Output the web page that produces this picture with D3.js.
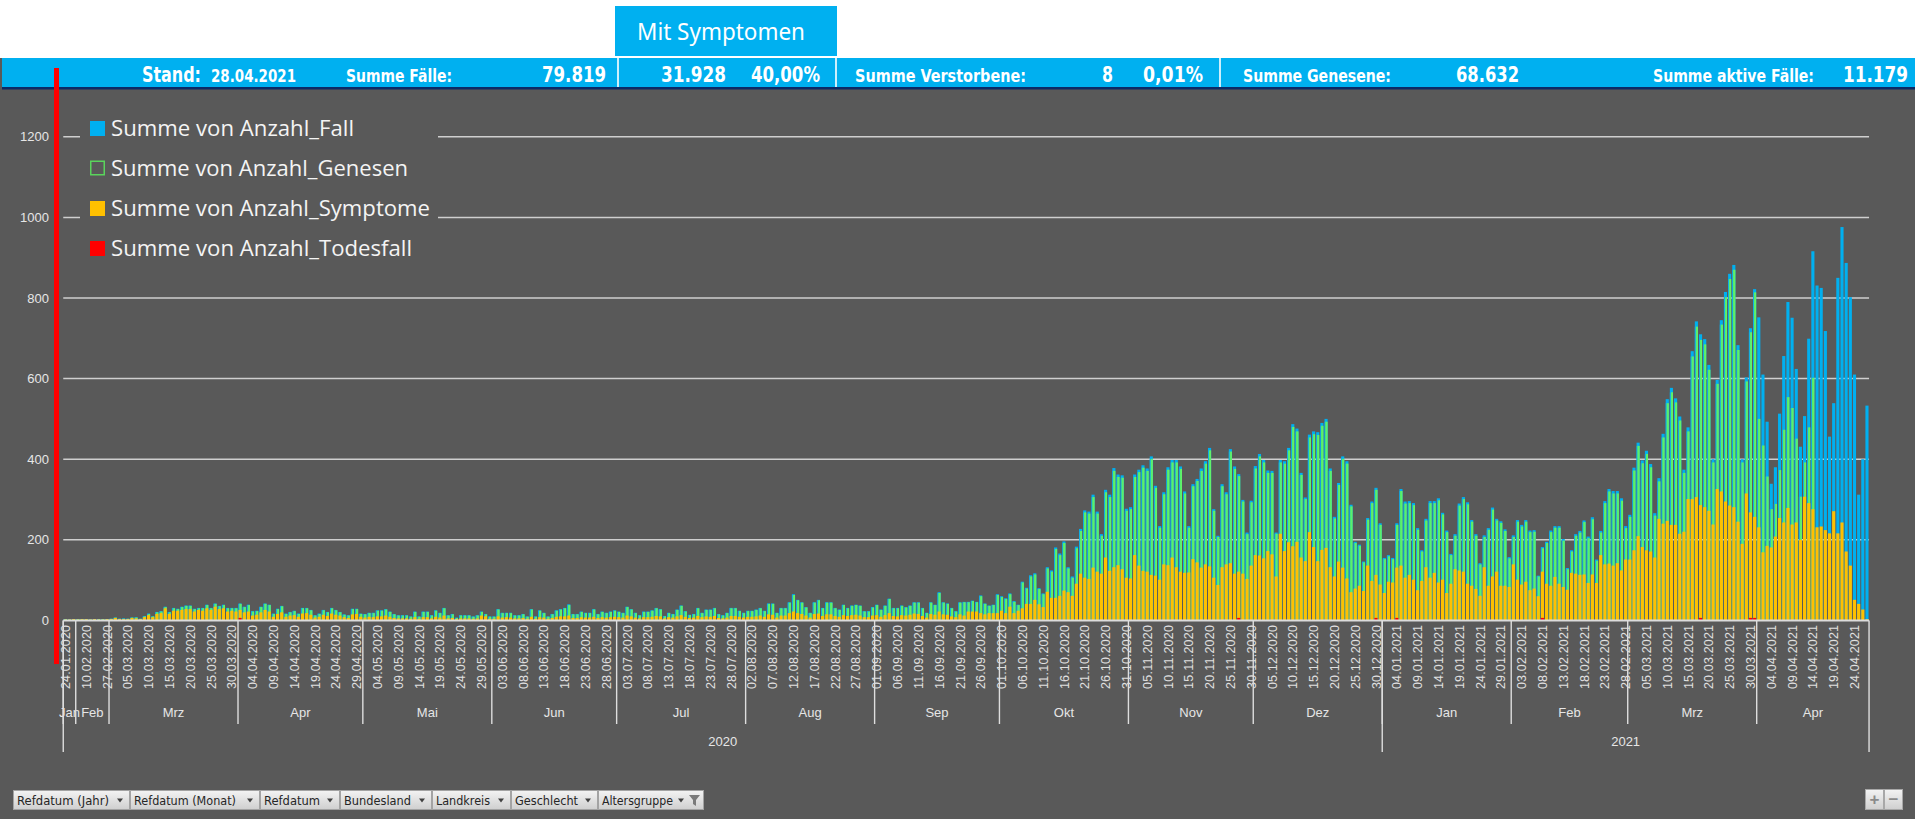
<!DOCTYPE html>
<html><head><meta charset="utf-8">
<script src="https://cdn.jsdelivr.net/npm/d3@7"></script>
<style>html,body{margin:0;padding:0;background:#595959;overflow:hidden}svg{display:block}</style>
</head><body>
<svg id="c" width="1915" height="819"></svg>
<script>
// ---------------- DATA ----------------
const ersteTage = ["24.01.2020","27.01.2020","28.01.2020","03.02.2020","07.02.2020","10.02.2020","12.02.2020","19.02.2020","24.02.2020","26.02.2020","27.02.2020"];
const fortlaufendVon = [2020, 2, 1];   // 01.03.2020
const fortlaufendBis = [2021, 3, 27];  // 27.04.2021
const fmtDatum = d3.utcFormat("%d.%m.%Y");
const kategorien = ersteTage.concat(
  d3.utcDays(new Date(Date.UTC(...fortlaufendVon)), new Date(Date.UTC(fortlaufendBis[0], fortlaufendBis[1], fortlaufendBis[2] + 1))).map(fmtDatum)
);

const anzahlFall = [
  3,2,3,3,3,3,2,3,3,3,3,
  4,7,4,5,4,7,8,4,11,17,10,21,23,34,21,31,29,34,37,37,29,31,31,39,31,42,36,39,31,31,31,
  42,34,39,23,24,34,42,39,17,29,36,17,21,24,17,31,31,26,13,17,26,21,31,26,21,15,13,29,29,17,
  16,19,19,25,25,28,22,16,13,13,13,10,22,10,22,22,13,25,19,31,13,16,7,13,13,13,10,13,22,16,10,
  10,28,19,19,19,13,13,16,10,28,10,25,19,10,16,25,28,31,40,16,16,22,19,19,28,16,22,19,22,25,
  22,19,34,28,19,13,22,22,25,31,28,11,19,16,27,37,23,14,16,31,19,27,27,31,16,13,19,31,31,24,19,
  24,24,27,31,24,42,42,19,31,31,45,65,51,45,33,19,45,51,31,45,45,31,27,39,31,37,39,37,23,23,33,
  39,27,37,54,31,31,37,33,37,45,45,31,19,45,39,70,45,42,31,23,45,46,46,49,46,62,42,37,39,65,
  60,55,67,48,39,96,81,112,117,80,67,132,124,181,166,196,132,109,183,227,273,270,312,270,214,324,312,378,362,360,277,
  281,362,374,385,377,407,334,234,318,380,398,398,382,320,234,338,351,377,395,428,276,210,338,318,425,382,363,299,218,297,
  383,413,398,372,371,218,398,395,428,487,476,366,305,461,469,467,490,500,377,257,341,407,395,287,195,188,146,254,295,329,241,
  155,162,155,241,326,295,296,291,229,174,252,296,296,303,267,223,165,214,290,306,293,249,214,142,211,229,280,252,246,226,157,
  211,249,237,249,223,224,111,182,195,223,234,234,202,130,174,214,222,248,208,256,151,222,296,326,321,321,303,234,
  262,379,441,397,421,388,266,353,463,549,577,551,506,374,479,668,742,710,698,634,400,597,745,815,860,882,683,400,603,725,822,
  752,610,493,339,380,513,656,790,751,624,431,507,699,916,831,825,718,456,539,850,976,887,802,610,312,400,533
];
const anzahlGenesen = [
  3,2,3,3,3,3,2,3,3,3,3,
  4,7,4,4,4,7,7,4,10,16,10,20,22,33,20,30,28,33,36,36,28,30,30,38,30,41,35,38,30,30,30,
  41,33,38,22,23,33,41,38,16,28,35,16,20,23,16,30,30,25,12,16,25,20,30,25,20,14,12,28,28,16,
  15,18,18,24,24,27,21,15,12,12,12,9,21,9,21,21,12,24,18,30,12,15,6,12,12,12,9,12,21,15,9,
  9,27,18,18,18,12,12,15,9,27,9,24,18,9,15,24,27,30,38,15,15,21,18,18,27,15,21,18,21,24,
  21,18,33,27,18,12,21,21,24,30,27,10,18,15,26,36,22,13,15,30,18,26,26,30,15,12,18,30,30,23,18,
  23,23,26,30,23,41,41,18,30,30,44,63,50,44,32,18,44,50,30,44,44,30,26,38,30,36,38,36,22,22,32,
  38,26,36,53,30,30,36,32,36,44,44,30,18,44,38,68,44,41,30,22,44,45,45,48,45,60,41,36,38,63,
  58,53,65,46,38,94,79,109,114,78,65,129,121,177,162,192,129,106,179,222,268,265,306,265,210,318,306,371,356,354,272,
  276,356,368,379,371,401,329,230,313,374,392,392,376,315,230,333,346,371,389,422,272,207,333,313,419,376,358,295,214,293,
  377,407,392,366,366,215,392,389,422,480,469,361,301,454,462,460,483,493,371,253,336,401,389,283,192,185,144,250,291,324,237,
  152,159,152,237,321,290,291,286,225,171,248,291,291,298,263,219,162,210,285,301,288,245,210,139,207,225,275,248,242,222,154,
  207,245,233,245,219,220,109,179,192,219,230,230,198,127,171,210,218,244,204,251,148,218,291,320,315,315,297,229,
  257,372,433,390,413,380,260,345,454,539,566,541,496,366,469,655,729,696,685,622,392,587,734,802,847,870,671,392,593,715,814,
  500,434,357,276,289,373,473,554,527,451,307,392,479,602,0,0,0,0,0,0,0,0,0,0,0,0,0
];
const anzahlSymptome = [
  2,2,3,2,3,3,2,3,2,2,3,
  3,6,3,3,3,6,5,3,8,13,8,16,18,30,16,24,24,26,28,28,22,26,24,30,26,34,28,30,22,24,22,
  26,20,22,12,14,20,26,22,9,16,20,9,12,13,9,17,18,14,7,9,14,11,17,14,12,8,6,15,16,9,
  7,9,8,10,10,12,9,6,5,5,5,4,8,4,8,8,5,9,7,12,5,6,3,5,5,5,4,5,12,10,4,
  4,10,7,8,7,5,5,6,4,9,4,8,7,4,6,9,10,10,12,6,6,8,7,7,9,6,8,7,8,9,
  8,7,12,10,7,5,8,8,9,11,10,5,8,7,10,13,9,6,7,11,8,10,9,11,6,5,7,11,11,9,7,
  9,9,10,12,9,15,14,7,12,12,18,22,18,16,12,7,16,17,11,15,15,11,9,13,11,13,14,12,8,8,12,
  13,9,13,18,11,10,13,12,14,17,16,11,7,16,14,22,15,14,10,8,15,12,22,22,22,18,15,18,18,18,
  24,18,34,18,24,30,41,41,51,40,33,71,56,56,61,74,70,61,91,116,106,103,131,121,116,156,123,132,137,127,106,
  104,162,136,123,121,113,111,101,139,137,156,132,121,118,119,152,144,131,139,134,106,88,132,139,142,116,121,116,103,136,
  162,161,154,172,164,109,215,172,194,184,195,156,147,219,182,147,175,180,132,109,146,131,104,70,79,86,73,136,98,113,89,
  68,96,94,131,136,106,113,101,75,98,132,106,118,94,101,68,91,127,124,121,91,86,78,61,132,86,109,121,86,86,83,
  139,101,89,96,75,79,60,121,91,86,108,91,83,76,118,116,113,114,93,114,93,162,139,141,136,142,124,151,
  151,174,209,182,174,171,156,252,240,247,237,237,215,220,301,301,306,286,281,272,238,326,320,295,285,281,245,190,315,268,257,
  231,169,185,181,208,254,243,279,238,243,200,307,291,276,231,233,224,216,271,216,243,171,136,51,41,27,3
];
const todesfaelle = [["01.04.2020",1],["27.11.2020",1],["30.12.2020",1],["04.01.2021",1],["08.02.2021",1],["18.03.2021",1],["30.03.2021",1],["31.03.2021",1]];

const yTicks = [0,200,400,600,800,1000,1200];
const monatsNamen = ["Jan","Feb","Mrz","Apr","Mai","Jun","Jul","Aug","Sep","Okt","Nov","Dez"];
const serienNamen = ["Summe von Anzahl_Fall","Summe von Anzahl_Genesen","Summe von Anzahl_Symptome","Summe von Anzahl_Todesfall"];
const kopfTexte = ["Stand:","28.04.2021","Summe Fälle:","79.819","31.928","40,00%","Summe Verstorbene:","8","0,01%","Summe Genesene:","68.632","Summe aktive Fälle:","11.179"];
const titelText = "Mit Symptomen";
const filterFelder = ["Refdatum (Jahr)","Refdatum (Monat)","Refdatum","Bundesland","Landkreis","Geschlecht","Altersgruppe"];

if (kategorien.length !== anzahlFall.length || anzahlFall.length !== anzahlGenesen.length || anzahlFall.length !== anzahlSymptome.length)
  console.error("length mismatch", kategorien.length, anzahlFall.length, anzahlGenesen.length, anzahlSymptome.length);

// ---------------- DRAWING ----------------
const W = 1915, H = 819;
const svg = d3.select("#c");
const defs = svg.append("defs");
const NARROW = "'Liberation Sans Narrow','DejaVu Sans Condensed','Liberation Sans',sans-serif";
const SANS = "'Liberation Sans',Arial,sans-serif";

function txt(g, x, y, s, o = {}) {
  const t = g.append("text").attr("x", x).attr("y", y).text(s)
    .attr("font-family", o.font || SANS)
    .attr("font-size", o.size || 13)
    .attr("font-weight", o.weight || "normal")
    .attr("fill", o.fill || "#ffffff")
    .attr("text-anchor", o.anchor || "start");
  if (o.len) t.attr("textLength", o.len).attr("lengthAdjust", "spacingAndGlyphs");
  return t;
}

// backgrounds
svg.append("rect").attr("width", W).attr("height", H).attr("fill", "#595959");
svg.append("rect").attr("width", W).attr("height", 58).attr("fill", "#ffffff");

// title box
svg.append("rect").attr("x", 615).attr("y", 6).attr("width", 222).attr("height", 50).attr("fill", "#00b0f0");
txt(svg, 721, 40, titelText, {font: "'Noto Sans','Open Sans',sans-serif", size: 23, anchor: "middle", len: 168});

// header bar
svg.append("rect").attr("x", 2).attr("y", 58).attr("width", W - 2).attr("height", 29).attr("fill", "#00b0f0");
svg.append("rect").attr("x", 2).attr("y", 87).attr("width", W - 2).attr("height", 2.5).attr("fill", "#0b2a66");
[618, 836, 1220].forEach(xx => svg.append("line").attr("x1", xx).attr("x2", xx).attr("y1", 58).attr("y2", 87).attr("stroke", "#ffffff").attr("stroke-width", 1.6));

const kopfLayout = [
  {x: 142, len: 59, size: 21}, {x: 211, len: 85, size: 17}, {x: 346, len: 106, size: 18},
  {x: 606, len: 64, size: 21, anchor: "end"}, {x: 661, len: 65, size: 21}, {x: 751, len: 69, size: 21},
  {x: 855, len: 171, size: 18}, {x: 1102, len: 11, size: 21}, {x: 1143, len: 60, size: 21},
  {x: 1243, len: 148, size: 18}, {x: 1456, len: 63, size: 21}, {x: 1653, len: 161, size: 18}, {x: 1843, len: 65, size: 21}
];
kopfTexte.forEach((s, k) => {
  const L = kopfLayout[k];
  txt(svg, L.x, 81.5, s, {font: NARROW, weight: "bold", size: L.size, len: L.len, anchor: L.anchor || "start"});
});

// scales
const x0 = 63.25, x1 = 1869.05;
const x = d3.scaleBand().domain(d3.range(kategorien.length)).range([x0, x1]).paddingInner(0.25).paddingOuter(0.125);
const y = d3.scaleLinear().domain([0, 1200]).range([620.4, 136.8]);
const step = x.step();
const grenze = i => x0 + i * step;

const plot = svg.append("g");

// gridlines
plot.selectAll("line.grid").data(yTicks.filter(v => v > 0)).enter().append("line")
  .attr("x1", x0).attr("x2", x1).attr("y1", d => y(d)).attr("y2", d => y(d))
  .attr("stroke", "#cfcfcf").attr("stroke-width", 1.5);

// y labels
plot.selectAll("text.yl").data(yTicks).enter().append("text")
  .attr("x", 49).attr("y", d => y(d) + 4.6).attr("text-anchor", "end")
  .attr("font-family", SANS).attr("font-size", 13).attr("fill", "#e6e6e6").text(d => d);

// gradient for Genesen
const gg = defs.append("linearGradient").attr("id", "gGen").attr("x1", 0).attr("x2", 1).attr("y1", 0).attr("y2", 0);
[[0, "#10a8e8"], [0.2, "#14b0e0"], [0.36, "#52ee6a"], [1, "#68f46a"]].forEach(s => gg.append("stop").attr("offset", s[0]).attr("stop-color", s[1]));

const bw = x.bandwidth();
function bars(data, fill, cls, minH) {
  plot.selectAll("rect." + cls).data(data.map((v, i) => ({v, i})).filter(d => d.v > 0)).enter().append("rect")
    .attr("class", cls)
    .attr("x", d => x(d.i)).attr("width", bw)
    .attr("y", d => Math.min(y(d.v), y(0) - (minH || 0)))
    .attr("height", d => Math.max(y(0) - y(d.v), minH || 0))
    .attr("fill", fill);
}
bars(anzahlFall, "#00b0f0", "fall");
bars(anzahlGenesen, "url(#gGen)", "gen");
bars(anzahlSymptome, "#ffc000", "sym");
const todesMap = new Map(todesfaelle);
bars(kategorien.map(k => todesMap.get(k) || 0), "#ff0000", "tod", 2.5);

// axis line
plot.append("line").attr("x1", x0).attr("x2", x1).attr("y1", y(0)).attr("y2", y(0)).attr("stroke", "#dcdcdc").attr("stroke-width", 2);

// legend
const leg = svg.append("g");
leg.append("rect").attr("x", 80).attr("y", 108).attr("width", 358).attr("height", 158).attr("fill", "#595959");
const legBase = [136, 175.5, 216, 256];
const legLen = [243, 297, 319, 301];
const legFill = ["#00b0f0", "none", "#ffc000", "#ff0000"];
serienNamen.forEach((s, k) => {
  const r = leg.append("rect").attr("x", 90).attr("y", legBase[k] - 15).attr("width", 15).attr("height", 15).attr("fill", legFill[k]);
  if (k === 1) r.attr("x", 90.75).attr("y", legBase[k] - 14.25).attr("width", 13.5).attr("height", 13.5).attr("stroke", "#5ad45c").attr("stroke-width", 1.5);
  txt(leg, 111, legBase[k], s, {font: "'Open Sans','Noto Sans',sans-serif", size: 22, fill: "#f4f4f4", len: legLen[k]});
});

// red vertical line
svg.append("rect").attr("x", 54).attr("y", 68).attr("width", 5).attr("height", 596).attr("fill", "#ff0000");

// x date labels
const xa = svg.append("g");
kategorien.forEach((d, i) => {
  if (i % 5 !== 0) return;
  const cx = x(i) + bw / 2;
  xa.append("text").attr("transform", `translate(${cx + 4.6},625) rotate(-90)`)
    .attr("text-anchor", "end").attr("font-family", SANS).attr("font-size", 12.5)
    .attr("fill", "#e0e0e0").attr("textLength", 64).attr("lengthAdjust", "spacing").text(d);
});

// month / year groups
const parse = s => ({m: +s.slice(3, 5) - 1, y: +s.slice(6)});
const monate = [], jahre = [];
kategorien.forEach((d, i) => {
  const p = parse(d);
  const lm = monate[monate.length - 1];
  if (!lm || lm.m !== p.m || lm.y !== p.y) monate.push({m: p.m, y: p.y, s: i, e: i + 1}); else lm.e = i + 1;
  const ly = jahre[jahre.length - 1];
  if (!ly || ly.y !== p.y) jahre.push({y: p.y, s: i, e: i + 1}); else ly.e = i + 1;
});
monate.forEach(g => {
  xa.append("line").attr("x1", grenze(g.s)).attr("x2", grenze(g.s)).attr("y1", y(0)).attr("y2", 724).attr("stroke", "#dedede").attr("stroke-width", 1.4);
  txt(xa, (grenze(g.s) + grenze(g.e)) / 2, 717, monatsNamen[g.m], {size: 13, anchor: "middle", fill: "#e6e6e6"});
});
jahre.forEach(g => {
  xa.append("line").attr("x1", grenze(g.s)).attr("x2", grenze(g.s)).attr("y1", y(0)).attr("y2", 752).attr("stroke", "#dedede").attr("stroke-width", 1.4);
  txt(xa, (grenze(g.s) + grenze(g.e)) / 2, 746, String(g.y), {size: 13, anchor: "middle", fill: "#e6e6e6"});
});
xa.append("line").attr("x1", x1).attr("x2", x1).attr("y1", y(0)).attr("y2", 752).attr("stroke", "#dedede").attr("stroke-width", 1.4);

// filter buttons
const bg = defs.append("linearGradient").attr("id", "gBtn").attr("x1", 0).attr("x2", 0).attr("y1", 0).attr("y2", 1);
[[0, "#f3f3f3"], [1, "#cfcfcf"]].forEach(s => bg.append("stop").attr("offset", s[0]).attr("stop-color", s[1]));
const knopfX = [13, 130, 260, 340, 432, 511, 598, 704];
const knopfLen = [92, 102, 56, 67, 54, 63, 71];
const fb = svg.append("g");
filterFelder.forEach((f, k) => {
  const a = knopfX[k], b = knopfX[k + 1] - 1;
  fb.append("rect").attr("x", a + 0.5).attr("y", 790.5).attr("width", b - a).attr("height", 19).attr("fill", "url(#gBtn)").attr("stroke", "#a3a3a3");
  txt(fb, a + 4, 805, f, {font: NARROW, size: 13, fill: "#262626", len: knopfLen[k]});
  const tx = k === 6 ? b - 22 : b - 9;
  fb.append("path").attr("d", `M${tx - 3},${798.5} L${tx + 3},${798.5} L${tx},${802.5} Z`).attr("fill", "#404040");
  if (k === 6) fb.append("path").attr("d", `M${b - 14},795 L${b - 3},795 L${b - 7},800 L${b - 7},806 L${b - 10},804 L${b - 10},800 Z`).attr("fill", "#7a7a7a");
});
// zoom buttons
[["+", 1865], ["\u2212", 1884]].forEach(([s, xx]) => {
  fb.append("rect").attr("x", xx + 0.5).attr("y", 789.5).attr("width", 18).attr("height", 20).attr("fill", "url(#gBtn)").attr("stroke", "#a8a8a8");
  txt(fb, xx + 9.5, 805, s, {size: 17, anchor: "middle", fill: "#8a8a8a", weight: "bold"});
});
</script>
</body></html>
